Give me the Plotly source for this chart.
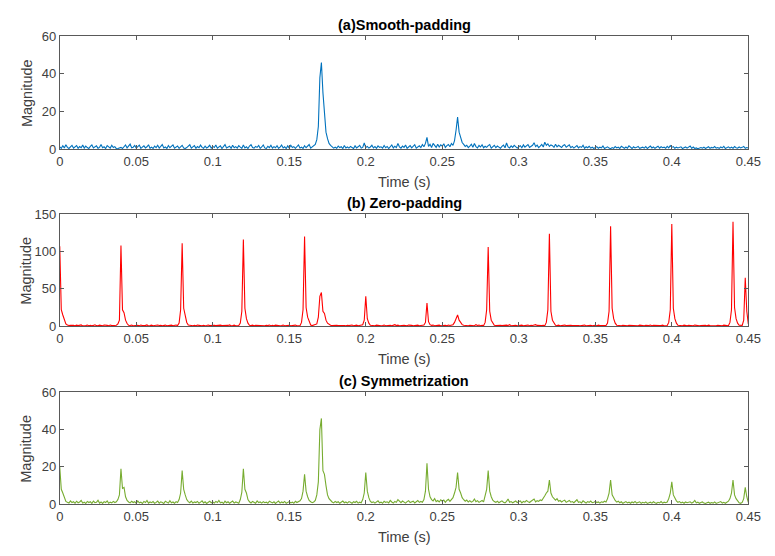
import numpy as np
import plotly.graph_objects as go

# sampling step of the time axis (s)
dt = 0.001
n_samples = 451

# (a) Smooth-padding magnitude
smooth_padding = [
    1.2,0.4,1.8,0.6,2.3,0.9,0.3,1.5,2.0,0.5, 1.1,1.9,0.4,1.3,0.7,2.1,0.5,1.6,0.8,0.3,
    1.4,2.2,0.6,1.0,1.7,0.4,0.9,2.4,0.7,1.2, 0.3,1.8,1.0,0.5,2.0,0.8,1.3,0.2,0.3,0.6,
    0.9,0.3,1.1,2.2,0.6,1.4,2.6,0.7,1.0,1.9,
    0.5,1.3,2.1,0.4,0.9,1.7,0.6,1.2,2.3,0.4, 1.0,0.3,1.6,0.8,2.0,0.5,1.4,2.4,0.6,1.1,
    0.3,1.9,0.7,1.3,2.2,0.5,0.9,1.6,0.4,1.2, 2.0,0.6,0.3,0.8,1.5,2.3,0.5,1.0,1.8,0.4,
    1.3,0.7,2.1,0.9,0.4,1.6,0.6,1.1,2.0,0.5,
    1.4,0.8,2.2,0.5,1.0,1.7,0.3,1.2,2.4,0.6, 0.9,1.5,0.4,2.0,0.7,1.3,0.5,1.8,1.0,0.4,
    2.1,0.6,1.2,0.3,1.6,2.3,0.8,0.5,1.4,0.9, 1.9,0.4,1.1,2.2,0.6,0.3,1.5,0.8,2.0,0.5,
    1.3,0.7,1.8,0.4,1.0,2.1,0.6,1.2,0.3,1.7,
    0.5,2.0,0.8,1.3,0.4,1.6,2.2,0.6,1.0,0.3, 1.8,0.7,1.4,2.4,0.5,1.1,1.9,2.5,5.0,12.0,
    38.0,46.0,30.0,20.0,9.0,5.5,3.0,2.0,1.2,0.5, 1.0,0.4,1.6,0.8,1.2,0.3,1.9,0.6,1.1,0.5,
    1.4,0.9,0.3,1.7,0.6,1.2,2.0,0.5,0.9,3.2,
    0.8,1.4,0.5,1.1,2.0,0.6,1.3,0.4,1.7,0.9, 1.2,0.5,1.9,0.7,1.4,0.3,1.0,2.2,0.6,1.5,
    0.8,3.0,1.2,0.5,1.6,0.9,2.1,0.4,1.1,1.8, 0.6,1.3,2.3,0.5,1.0,1.7,0.8,2.4,1.2,3.0,
    6.2,1.4,2.5,0.8,3.0,1.6,0.9,2.6,1.1,2.2,
    1.5,2.8,0.9,1.8,2.4,1.2,3.0,2.0,4.5,10.0, 17.0,9.0,6.0,3.5,2.5,1.4,2.0,0.8,1.6,2.6,
    1.0,3.0,1.3,0.6,1.9,1.1,2.3,0.7,1.5,0.9, 1.8,2.4,0.5,1.2,2.0,0.8,1.6,1.0,0.4,1.4,
    2.1,0.7,3.2,1.1,0.6,1.7,0.9,2.0,1.3,0.5,
    1.2,1.8,0.7,2.2,1.0,1.5,2.4,0.9,1.7,2.0, 3.4,1.3,2.1,0.8,1.6,2.5,1.1,3.6,2.0,2.8,
    1.4,2.2,1.8,0.9,2.6,1.2,2.0,1.5,0.8,1.9, 2.3,1.0,1.6,2.2,0.7,1.4,0.5,1.1,1.8,0.6,
    1.3,0.9,2.0,0.4,1.2,0.7,1.5,0.5,1.0,0.3,
    0.8,1.3,0.4,1.0,0.6,1.6,0.3,0.9,1.2,0.5, 0.2,0.8,0.4,1.3,0.6,1.0,0.3,1.5,0.7,0.4,
    1.1,0.5,1.7,0.8,0.3,1.2,0.6,0.9,1.4,0.4, 0.7,1.0,0.5,1.3,0.3,0.8,1.6,0.6,1.1,0.4,
    0.9,1.5,0.5,1.2,0.7,1.0,0.4,1.4,0.6,1.8,
    0.9,1.3,0.4,1.0,0.6,0.8,1.2,0.3,0.7,1.1, 0.5,0.9,1.6,0.4,1.1,0.3,0.6,0.2,0.4,0.8,
    0.5,1.0,0.3,0.7,1.2,0.4,0.9,0.6,1.3,0.5, 0.8,0.4,1.1,0.6,1.4,0.3,0.9,1.2,0.5,1.0,
    0.4,1.3,0.7,0.5,1.1,0.6,0.9,1.4,0.4,0.8,
    0.6,
]

# (b) Zero-padding magnitude
zero_padding = [
    107,22,15,8,3,1.5,0.8,1.2,0.6,1.0, 0.5,1.3,0.7,0.9,1.6,0.4,1.1,0.8,1.4,0.6,
    1.2,0.5,1.0,1.8,0.7,0.4,1.3,0.9,0.6,1.5, 0.8,1.1,0.5,1.4,0.7,1.0,0.6,1.3,3.0,8.0,
    108,22,18,8,3.5,1.2,0.8,1.5,0.6,1.0,
    0.7,1.2,0.5,1.4,0.9,0.6,1.1,1.6,0.4,0.8, 1.3,0.6,1.0,0.5,1.5,0.8,1.2,0.4,0.9,1.4,
    0.6,1.1,0.7,1.3,0.5,1.0,1.6,0.8,4.0,22.0, 111,24,12,5,1.5,0.9,1.3,0.6,1.0,0.5,
    1.4,0.8,1.1,0.6,1.2,0.4,0.9,1.5,0.7,1.0,
    0.6,1.3,0.8,1.1,0.5,1.4,0.9,0.7,1.2,0.4, 1.0,1.6,0.6,0.9,1.3,0.5,1.1,0.8,4.0,20.0,
    116,24,10,4,1.2,0.7,1.3,0.5,1.0,0.8, 1.4,0.6,1.1,0.9,0.5,1.2,0.7,1.5,0.6,1.0,
    0.4,1.3,0.8,1.1,0.6,0.9,1.4,0.5,1.0,0.7,
    1.2,0.6,1.0,0.8,1.4,0.5,1.1,0.7,5.0,22.0, 120,25,12,5,1.5,0.8,1.2,2.0,3.0,12.0,
    40,45,20,17,8,4,2.0,1.2,0.7,1.1, 0.5,1.3,0.8,1.0,0.6,1.4,0.9,0.5,1.2,0.7,
    1.0,1.5,0.6,0.9,1.3,0.5,1.1,0.8,2.0,8.0,
    40,10,4,1.2,0.7,1.0,0.5,1.3,0.8,1.1, 0.6,0.9,1.4,0.5,1.0,0.7,1.2,0.4,1.1,2.0,
    0.8,1.3,0.6,1.0,0.5,1.2,0.9,0.6,1.4,0.7, 1.0,0.5,1.1,0.8,1.3,0.6,0.9,1.2,1.5,5.0,
    31,6,2.0,1.0,1.4,0.6,1.1,0.8,1.3,0.5,
    1.0,0.7,1.2,0.6,1.5,0.9,1.3,2.0,5.0,10.0, 15,8,4,2.0,1.1,0.7,1.3,0.5,1.0,0.8,
    1.2,0.6,2.0,0.9,1.4,0.5,1.1,0.7,5.0,22.0, 106,20,8,4,1.2,0.8,1.1,0.5,1.3,0.7,
    1.0,0.6,1.4,0.9,2.0,0.6,1.1,0.8,1.2,0.5,
    1.0,0.7,1.3,0.6,1.1,0.9,1.4,0.5,1.2,0.8, 1.5,2.0,1.0,0.7,1.3,0.9,1.1,0.6,5.0,22.0,
    124,20,8,3.5,1.2,0.8,1.3,0.6,1.0,0.9, 1.4,0.7,1.1,0.5,1.2,0.8,1.0,0.6,1.3,0.9,
    0.5,1.1,0.7,1.4,0.6,1.0,0.8,1.2,0.5,0.9,
    1.1,0.6,1.3,0.8,1.0,0.5,1.2,0.9,4.0,20.0, 134,24,10,4,1.3,0.7,1.0,0.5,1.2,0.8,
    1.4,0.6,1.0,0.9,0.5,1.2,0.7,1.1,0.6,1.3, 0.8,1.0,0.5,1.2,0.7,0.9,1.4,0.6,1.1,0.8,
    0.5,1.2,0.9,0.7,1.3,0.6,1.0,0.8,5.0,22.0,
    137,24,10,4,1.2,0.8,1.1,0.6,1.3,0.9, 0.5,1.2,0.7,1.0,0.6,1.4,0.8,1.1,0.5,0.9,
    1.2,0.7,1.0,0.6,1.3,0.8,0.5,1.1,0.9,0.6, 1.2,0.7,1.0,0.5,1.3,0.8,1.1,0.6,5.0,22.0,
    140,25,10,4,1.2,0.8,1.0,8.0,65,20,
    3.0,
]

# (c) Symmetrization magnitude
symmetrization = [
    20,8,6,3,1.5,1.0,0.6,1.8,0.9,1.3, 0.5,1.6,0.8,1.2,2.0,0.6,1.1,0.4,1.5,0.9,
    1.3,0.5,1.7,0.8,1.0,2.1,0.6,1.2,0.4,1.4, 0.9,1.8,0.5,1.1,0.7,1.5,0.9,1.3,2.5,5.0,
    19,8.5,9.0,4.0,2.0,1.2,0.7,1.6,0.9,1.3,
    0.5,1.8,0.8,1.1,0.4,1.5,0.9,2.0,0.6,1.2, 0.8,1.4,0.5,1.0,1.7,0.6,1.3,0.9,0.4,1.6,
    1.0,0.6,1.9,0.8,1.2,0.5,1.4,0.9,2.5,6.0, 18,8,5,2.5,1.4,0.8,1.7,0.6,1.2,0.9,
    1.5,0.5,1.1,1.8,0.7,1.3,0.4,1.0,1.6,0.8,
    1.2,0.6,1.5,0.9,2.0,0.7,1.1,0.4,1.6,0.8, 1.3,0.5,1.0,1.7,0.6,1.2,0.9,0.5,2.5,6.5,
    19,8,6,2.5,1.3,0.7,1.5,1.0,0.5,1.8, 0.9,1.2,0.6,1.4,0.8,1.1,0.5,1.6,1.0,0.7,
    1.3,0.4,1.1,1.7,0.6,1.2,0.8,1.5,0.5,1.0,
    1.4,0.7,1.1,0.5,1.6,0.9,1.2,1.8,3.0,7.0, 16,7,4,2.0,1.3,0.8,1.2,2.0,5.0,12.0,
    40,46,18,16,10,5,3.0,2.0,1.2,0.7, 1.5,0.9,1.3,0.5,1.1,1.7,0.8,1.2,0.6,1.4,
    1.0,0.5,1.3,0.9,1.6,0.6,1.1,0.8,2.5,6.0,
    17,7,3.5,1.5,0.9,1.3,0.6,1.2,1.8,0.8, 1.1,0.5,1.6,1.0,1.3,0.7,2.0,1.2,0.6,1.5,
    1.0,2.5,1.3,0.8,1.7,1.1,0.6,1.4,1.9,0.9, 1.2,1.6,0.7,1.3,2.0,1.0,1.5,1.1,2.5,7.0,
    22,8,4,2.5,1.8,3.0,1.4,2.0,1.2,2.4,
    1.6,2.2,1.0,2.0,2.6,1.5,2.8,3.5,6.0,9.0, 17,8,6,3.5,2.4,1.6,2.2,1.2,1.9,1.1,
    1.5,2.8,1.3,1.9,1.0,1.6,2.0,1.2,4.0,8.0, 18,7,4,2.2,1.4,1.0,1.6,0.8,1.3,1.8,
    1.1,0.7,1.5,2.8,1.0,1.4,0.8,1.2,1.7,0.9,
    1.3,1.8,0.7,1.5,1.1,2.0,1.4,0.9,1.6,2.2, 2.8,1.2,1.9,1.5,2.3,2.0,3.0,4.5,6.0,7.0,
    13,6,4,3.0,2.2,3.0,1.6,2.0,1.2,1.8, 2.2,1.0,1.6,2.0,1.1,1.4,0.8,1.7,2.4,1.0,
    1.3,0.7,1.8,1.2,0.6,1.4,1.0,1.7,0.8,1.1,
    1.5,0.9,1.2,0.6,1.3,1.0,1.6,1.2,3.0,6.0, 13,5,3.0,2.0,1.1,1.6,0.8,1.3,0.5,1.0,
    1.4,0.7,1.1,0.5,1.2,0.8,1.5,0.6,0.9,1.3, 0.5,1.0,0.7,1.2,0.4,0.9,1.1,0.6,1.3,0.8,
    0.5,1.0,0.7,1.4,0.6,1.1,0.8,1.2,3.0,6.0,
    12,5,3.0,1.8,1.0,1.4,0.7,1.1,0.5,1.2, 0.8,1.0,1.3,0.6,1.0,2.0,0.7,1.1,0.5,0.9,
    1.2,0.6,0.4,0.8,1.1,0.5,0.9,0.6,1.2,0.4, 0.8,1.0,1.4,0.6,1.0,0.5,1.1,1.6,3.0,6.0,
    13,5,3.0,1.5,0.8,0.5,1.0,3.0,9.0,4.0,
    1.0,
]

x_tickvals = [0, 0.05, 0.1, 0.15, 0.2, 0.25, 0.3, 0.35, 0.4, 0.45]
x_ticktext = ["0", "0.05", "0.1", "0.15", "0.2", "0.25", "0.3", "0.35", "0.4", "0.45"]
y_ticks_a = [0, 20, 40, 60]
y_ticks_b = [0, 50, 100, 150]
y_ticks_c = [0, 20, 40, 60]

titles = ["(a)Smooth-padding", "(b) Zero-padding", "(c) Symmetrization"]
colors = ["#0072BD", "#FF0000", "#77AC30"]

time = np.arange(n_samples) * dt

# figure fills the whole 775x556 page (body margin removed below)
W, H = 775, 556
left_px, right_px = 57, 761
panels_px = [(30, 146), (213, 328), (396, 511)]


def px_x(p):
    return p / W


def px_y(p):
    return 1 - p / H


FONT = "Liberation Sans, Arial, sans-serif"
AX = "#595959"
TXT = "#404040"

fig = go.Figure()
series = [smooth_padding, zero_padding, symmetrization]
yticks = [y_ticks_a, y_ticks_b, y_ticks_c]

annotations = []
for i, (vals, col) in enumerate(zip(series, colors)):
    k = "" if i == 0 else str(i + 1)
    fig.add_trace(go.Scatter(x=time, y=vals, mode="lines",
                             line=dict(color=col, width=1.1),
                             xaxis="x" + k, yaxis="y" + k, showlegend=False,
                             hoverinfo="skip"))
    top, bot = panels_px[i]
    fig.layout["xaxis" + k] = dict(
        domain=[px_x(left_px), px_x(right_px)], range=[0, 0.45], anchor="y" + k,
        tickvals=x_tickvals, ticktext=x_ticktext, ticks="inside", ticklen=4,
        tickcolor=AX, showline=True, linecolor=AX, linewidth=1, mirror="allticks",
        showgrid=False, zeroline=False, ticklabeloverflow="allow",
        tickfont=dict(family=FONT, size=13, color=TXT))
    fig.layout["yaxis" + k] = dict(
        domain=[px_y(bot), px_y(top)], range=[0, max(yticks[i])], anchor="x" + k,
        tickvals=yticks[i], ticks="inside", ticklen=4,
        tickcolor=AX, showline=True, linecolor=AX, linewidth=1, mirror="allticks",
        showgrid=False, zeroline=False,
        tickfont=dict(family=FONT, size=13, color=TXT))
    cx = px_x((left_px + right_px) / 2)
    annotations.append(dict(text="<b>" + titles[i] + "</b>", xref="paper", yref="paper",
                            x=cx, y=px_y(top - 12), showarrow=False,
                            xanchor="center", yanchor="middle",
                            font=dict(family=FONT, size=14.5, color="#000000")))
    annotations.append(dict(text="Time (s)", xref="paper", yref="paper",
                            x=cx, y=px_y(bot + 34), showarrow=False,
                            xanchor="center", yanchor="middle",
                            font=dict(family=FONT, size=14.5, color=TXT)))
    annotations.append(dict(text="Magnitude", xref="paper", yref="paper",
                            x=px_x(23), y=px_y((top + bot) / 2), showarrow=False,
                            textangle=-90, xanchor="center", yanchor="middle",
                            font=dict(family=FONT, size=14.5, color=TXT)))

fig.update_layout(width=W, height=H, autosize=False,
                  margin=dict(l=0, r=0, t=0, b=0),
                  paper_bgcolor="white", plot_bgcolor="white",
                  hovermode=False, dragmode=False,
                  annotations=annotations)

fig.write_html("out.html",
               config={"displayModeBar": False, "staticPlot": True},
               post_script="document.body.style.margin='0';"
                           "document.documentElement.style.overflow='hidden';")
